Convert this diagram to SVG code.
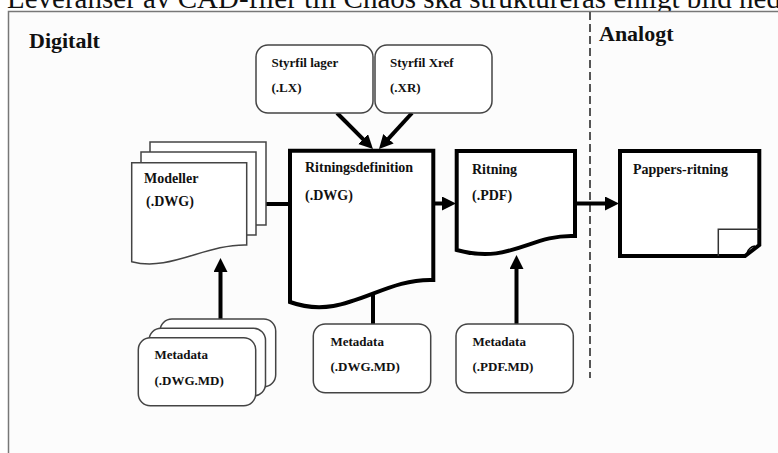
<svg xmlns="http://www.w3.org/2000/svg" width="778" height="453" viewBox="0 0 778 453">
<style>
text{font-family:"Liberation Serif","Times New Roman",serif;fill:#111;}
.t{font-weight:bold;font-size:14px;}
.s{font-weight:bold;font-size:13px;}
.h{font-weight:bold;font-size:22px;}
.doc{fill:#fff;stroke:#000;stroke-width:4;stroke-linejoin:miter;}
.pg{fill:#fff;stroke:#444;stroke-width:1.5;}
.box{fill:#fff;stroke:#444;stroke-width:1.5;}
.ar{stroke:#000;stroke-width:4;fill:none;marker-end:url(#ah);}
.ln{stroke:#000;stroke-width:4;fill:none;}
</style>
<defs>
<marker id="ah" markerUnits="userSpaceOnUse" markerWidth="16" markerHeight="16" refX="6" refY="7" orient="auto">
<path d="M0,0 L14,7 L0,14 Z" fill="#000"/>
</marker>
</defs>
<rect width="778" height="453" fill="#fff"/>
<text x="7" y="8" style="font-weight:normal;font-size:29px;">Leveranser av CAD-filer till Chaos ska struktureras enligt bild nedan</text>
<rect x="8.5" y="11.5" width="800" height="500" fill="#fcfcfc" stroke="#777" stroke-width="1.5"/>
<line x1="590" y1="12" x2="590" y2="378" stroke="#555" stroke-width="2" stroke-dasharray="8,4"/>
<text class="h" x="29" y="48">Digitalt</text>
<text class="h" x="599" y="41">Analogt</text>

<g id="connectors">
<line class="ln" x1="265" y1="204" x2="290" y2="204"/>
<line class="ar" x1="220.5" y1="319" x2="220.5" y2="266"/>
<line class="ar" x1="337" y1="113" x2="367.3" y2="143.3"/>
<line class="ar" x1="412" y1="113" x2="384.4" y2="143.1"/>
<line class="ar" x1="433" y1="203.5" x2="448" y2="203.5"/>
<line class="ar" x1="373" y1="324" x2="373" y2="261"/>
<line class="ar" x1="516.5" y1="324" x2="516.5" y2="263"/>
<line class="ar" x1="575" y1="203.5" x2="611" y2="203.5"/>
</g>

<g id="modeller">
<rect class="pg" x="150" y="142" width="116" height="83"/>
<rect class="pg" x="141" y="152" width="115" height="83"/>
<path class="pg" d="M131.7,162.7 H246.7 V245 C205,244 170,272 131.7,261.7 Z"/>
<text class="t" x="144" y="183">Modeller</text>
<text class="t" x="146" y="206">(.DWG)</text>
</g>

<g id="styrfil-lager">
<rect class="box" x="256" y="45" width="117" height="68" rx="12"/>
<text class="s" x="271.5" y="67">Styrfil lager</text>
<text class="s" x="271.5" y="92">(.LX)</text>
</g>

<g id="styrfil-xref">
<rect class="box" x="375" y="45" width="117" height="68" rx="12"/>
<text class="s" x="390" y="67">Styrfil Xref</text>
<text class="s" x="390" y="92">(.XR)</text>
</g>

<g id="ritningsdefinition">
<path class="doc" d="M290,150.7 H433.3 V280 C380,278 345,322 290,302 Z"/>
<text class="t" x="305" y="172">Ritningsdefinition</text>
<text class="t" x="305" y="199.5">(.DWG)</text>
</g>

<g id="ritning">
<path class="doc" d="M456.7,151 H575 V236 C530,234 510,265 456.7,250 Z"/>
<text class="t" x="472" y="173.5">Ritning</text>
<text class="t" x="472" y="199.5">(.PDF)</text>
</g>

<g id="pappers-ritning">
<path class="doc" d="M620,151 H759.3 V245 L745,256 H620 Z"/>
<polyline points="718.3,256 718.3,229.3 759.3,229.3" fill="none" stroke="#333" stroke-width="1.5"/>
<path d="M747,253 Q749,247 755,246" fill="none" stroke="#000" stroke-width="1.5"/>
<text class="t" x="633" y="173.5">Pappers-ritning</text>
</g>

<g id="metadata-stack">
<rect class="box" x="160" y="319" width="115.7" height="67.7" rx="12"/>
<rect class="box" x="149" y="328.3" width="116.5" height="67.7" rx="12"/>
<rect class="box" x="138.3" y="337.7" width="117.4" height="68" rx="12"/>
<text class="s" x="154.5" y="359">Metadata</text>
<text class="s" x="154.5" y="384.5">(.DWG.MD)</text>
</g>

<g id="metadata-dwg">
<rect class="box" x="313.3" y="324" width="117.4" height="68.7" rx="12"/>
<text class="s" x="330.5" y="345.5">Metadata</text>
<text class="s" x="330.5" y="371">(.DWG.MD)</text>
</g>

<g id="metadata-pdf">
<rect class="box" x="456" y="324" width="117.3" height="68.7" rx="12"/>
<text class="s" x="472.5" y="345.5">Metadata</text>
<text class="s" x="472.5" y="371">(.PDF.MD)</text>
</g>
</svg>
